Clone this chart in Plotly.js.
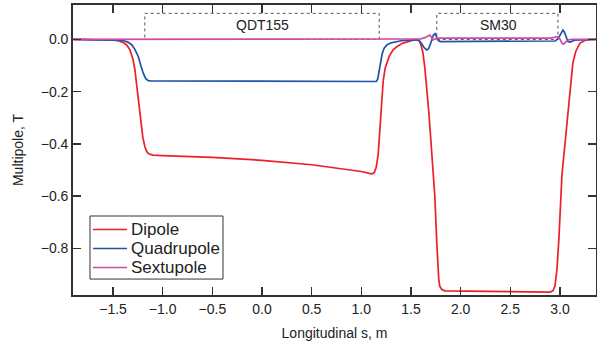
<!DOCTYPE html>
<html>
<head>
<meta charset="utf-8">
<script src="https://cdn.plot.ly/plotly-3.0.1.min.js"></script>
<style>html,body{margin:0;padding:0;background:#fff;}#chart{width:597px;height:343px;}</style>
</head>
<body>
<div id="chart"></div>
<script>
// Dipole
const dipoleS = [-1.9, -1.6, -1.5, -1.45, -1.4, -1.36, -1.33, -1.3, -1.28, -1.26, -1.24, -1.22, -1.2, -1.18, -1.16, -1.14, -1.12, -1.1, -1.05, -1.0, -0.5, 0, 0.5, 0.8, 1.0, 1.08, 1.11, 1.13, 1.15, 1.17, 1.19, 1.205, 1.22, 1.24, 1.255, 1.28, 1.32, 1.36, 1.42, 1.49, 1.53, 1.56, 1.58, 1.6, 1.62, 1.64, 1.66, 1.68, 1.7, 1.72, 1.74, 1.76, 1.77, 1.78, 1.79, 1.81, 1.84, 2.2, 2.5, 2.8, 2.9, 2.93, 2.95, 2.97, 2.99, 3.02, 3.05, 3.07, 3.09, 3.11, 3.13, 3.16, 3.2, 3.25, 3.3, 3.36];
const dipoleB = [0, -0.001, -0.002, -0.005, -0.011, -0.022, -0.04, -0.075, -0.115, -0.18, -0.25, -0.32, -0.375, -0.41, -0.43, -0.438, -0.441, -0.443, -0.444, -0.445, -0.452, -0.463, -0.48, -0.494, -0.506, -0.513, -0.515, -0.51, -0.49, -0.44, -0.33, -0.23, -0.16, -0.11, -0.09, -0.065, -0.04, -0.027, -0.014, -0.005, -0.002, -0.001, -0.003, -0.02, -0.05, -0.11, -0.19, -0.28, -0.385, -0.48, -0.6, -0.78, -0.87, -0.92, -0.945, -0.958, -0.963, -0.965, -0.966, -0.968, -0.968, -0.962, -0.945, -0.88, -0.76, -0.52, -0.4, -0.33, -0.24, -0.15, -0.09, -0.045, -0.015, -0.004, 0, 0];
// Quadrupole
const quadS = [-1.9, -1.5, -1.4, -1.35, -1.31, -1.28, -1.245, -1.22, -1.195, -1.17, -1.145, -1.12, 0, 1.15, 1.165, 1.18, 1.195, 1.21, 1.23, 1.26, 1.3, 1.4, 1.5, 1.57, 1.6, 1.63, 1.658, 1.675, 1.69, 1.71, 1.725, 1.742, 1.76, 1.775, 1.8, 2.0, 2.5, 2.9, 2.95, 2.98, 3.0, 3.017, 3.03, 3.045, 3.06, 3.08, 3.1, 3.15, 3.36];
const quadB = [0, -0.001, -0.004, -0.01, -0.021, -0.038, -0.066, -0.1, -0.13, -0.15, -0.158, -0.159, -0.16, -0.161, -0.152, -0.12, -0.085, -0.055, -0.033, -0.02, -0.013, -0.005, -0.002, -0.001, -0.012, -0.03, -0.04, -0.036, -0.024, 0.002, 0.016, 0.022, 0.008, -0.004, -0.008, -0.008, -0.008, -0.008, -0.006, 0.002, 0.015, 0.03, 0.036, 0.028, 0.01, -0.008, -0.01, -0.003, 0];
// Sextupole
const sextS = [-1.9, 1.55, 1.6, 1.64, 1.67, 1.69, 1.705, 1.72, 1.735, 1.76, 2.9, 2.95, 2.98, 3.0, 3.02, 3.035, 3.05, 3.08, 3.12, 3.36];
const sextB = [0, 0, 0.002, 0.007, 0.014, 0.017, 0.01, -0.002, 0.001, 0.005, 0.005, 0.008, 0.011, 0.002, -0.014, -0.018, -0.012, -0.002, 0, 0];

const seriesNames = ['Dipole', 'Quadrupole', 'Sextupole'];
const seriesColors = ['#ee1f2a', '#1f52a8', '#cc4ca4'];

// Magnet regions (dashed boxes)
const magnetNames = ['QDT155', 'SM30'];
const magnetStart = [-1.18, 1.76];
const magnetEnd = [1.18, 2.98];
const magnetTop = [0.1, 0.1];
const magnetLabelX = [0.0, 2.38];
const magnetLabelY = [0.057, 0.055];

const xTicks = [-1.5, -1.0, -0.5, 0.0, 0.5, 1.0, 1.5, 2.0, 2.5, 3.0];
const yTicks = [0.0, -0.2, -0.4, -0.6, -0.8];

const xs = [dipoleS, quadS, sextS];
const ys = [dipoleB, quadB, sextB];
const traces = seriesNames.map((n, i) => ({
  x: xs[i], y: ys[i], name: n, type: 'scatter', mode: 'lines',
  line: {color: seriesColors[i], width: 1.7}, showlegend: false
}));

const shapes = magnetNames.map((n, i) => ({
  type: 'rect', xref: 'x', yref: 'y',
  x0: magnetStart[i], x1: magnetEnd[i], y0: 0, y1: magnetTop[i],
  line: {color: '#555', width: 1, dash: '3px,3px'}, layer: 'below'
}));
const annotations = magnetNames.map((n, i) => ({
  text: n, x: magnetLabelX[i], y: magnetLabelY[i], xref: 'x', yref: 'y',
  showarrow: false, font: {size: 14, color: '#222'}
}));

// Legend box (paper coordinates)
const legBox = {x0: 0.0325, x1: 0.2868, y0: 0.055, y1: 0.2724};
const legRowY = [0.2259, 0.1603, 0.0948];
shapes.push({type: 'rect', xref: 'paper', yref: 'paper', x0: legBox.x0, x1: legBox.x1,
  y0: legBox.y0, y1: legBox.y1, line: {color: '#333', width: 1}, fillcolor: '#fff', layer: 'above'});
seriesNames.forEach((n, i) => {
  shapes.push({type: 'line', xref: 'paper', yref: 'paper', x0: 0.0383, x1: 0.1033,
    y0: legRowY[i], y1: legRowY[i], line: {color: seriesColors[i], width: 1.7}, layer: 'above'});
  annotations.push({text: n, xref: 'paper', yref: 'paper', x: 0.1075, y: legRowY[i],
    xanchor: 'left', yanchor: 'middle', showarrow: false, font: {size: 17, color: '#222'}});
});

const font = {family: '"Liberation Sans", Arial, sans-serif', size: 14, color: '#222'};
const layout = {
  width: 597, height: 343,
  margin: {l: 73, r: 1, t: 5, b: 48},
  paper_bgcolor: '#fff', plot_bgcolor: '#fff',
  font: font,
  showlegend: false,
  xaxis: {range: [-1.903, 3.363], tickvals: xTicks, tickformat: '.1f',
    ticks: 'inside', ticklen: 8, tickwidth: 1.3, tickcolor: '#333',
    showline: true, linecolor: '#333', linewidth: 1.8, mirror: 'ticks',
    showgrid: false, zeroline: false,
    title: {text: 'Longitudinal s, m', font: {size: 14}, standoff: 13}},
  yaxis: {range: [-0.979, 0.132], tickvals: yTicks, tickformat: '.1f',
    ticks: 'inside', ticklen: 8, tickwidth: 1.3, tickcolor: '#333',
    showline: true, linecolor: '#333', linewidth: 1.8, mirror: 'ticks',
    showgrid: false, zeroline: false,
    title: {text: 'Multipole, T', font: {size: 14}, standoff: 14}},
  shapes: shapes,
  annotations: annotations
};
Plotly.newPlot('chart', traces, layout, {displayModeBar: false, staticPlot: true});
</script>
</body>
</html>
